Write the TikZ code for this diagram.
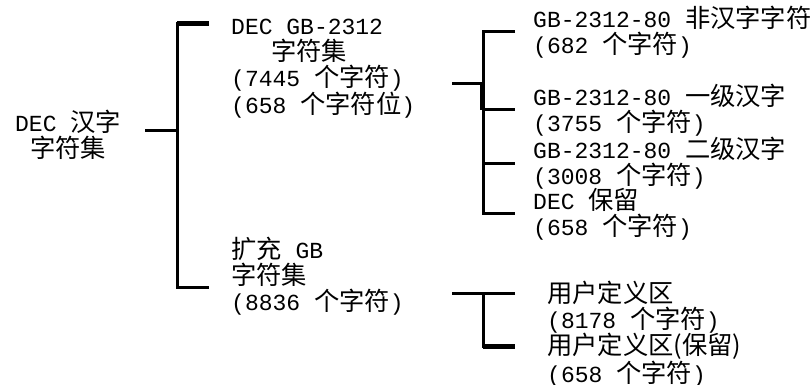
\documentclass[tikz,border=0pt]{standalone}
\usepackage{fontspec}
\setmainfont{Liberation Mono}
\newfontfamily\cjk{Noto Sans CJK SC}[Scale=1.1]
\newcommand{\zh}[1]{{\cjk #1}}

\begin{document}
\begin{tikzpicture}[x = 1pt, y = -1pt,
                      bar/.style = {line width = 3pt, line join = miter},
                      thickbar/.style = {line width = 5pt},
                      txt/.style = {anchor = west, inner sep = 0pt, align = left,
                                    font = \fontsize{23}{26}\selectfont}]
    \useasboundingbox (0, 0) rectangle (811, 385);

    \node [txt, align = center] (root) at (15, 135) {DEC \zh{汉字}\\\zh{字符集}};
    \node [txt] (gbset) at (231, 69) {DEC GB-2312\\\hspace*{40pt}\zh{字符集}\\(7445 \zh{个字符})\\(658 \zh{个字符位})};
    \node [txt] (extset) at (231, 276) {\zh{扩充} GB\\\zh{字符集}\\(8836 \zh{个字符})};
    \node [txt] (nonhan) at (533, 32) {GB-2312-80 \zh{非汉字字符}\\(682 \zh{个字符})};
    \node [txt] (lvlone) at (533, 110) {GB-2312-80 \zh{一级汉字}\\(3755 \zh{个字符})};
    \node [txt] (lvltwo) at (533, 163) {GB-2312-80 \zh{二级汉字}\\(3008 \zh{个字符})};
    \node [txt] (decres) at (533, 214) {DEC \zh{保留}\\(658 \zh{个字符})};
    \node [txt] (userdef) at (547, 307) {\zh{用户定义区}\\(8178 \zh{个字符})};
    \node [txt] (userres) at (547, 360) {\zh{用户定义区(保留)}\\(658 \zh{个字符})};

    \coordinate (rootstub) at (145, 131);
    \coordinate (rootjoin) at (177, 131);
    \coordinate (gbend) at (209, 24);
    \coordinate (extend) at (209, 287);
    \coordinate (gbstub) at (452, 84);
    \coordinate (gbjoin) at (483, 84);
    \coordinate (gbmid) at (483, 110);
    \coordinate (nonhanend) at (515, 32);
    \coordinate (lvloneend) at (515, 110);
    \coordinate (lvltwoend) at (515, 163);
    \coordinate (decresend) at (515, 213);
    \coordinate (extstub) at (452, 293);
    \coordinate (extjoin) at (483, 293);
    \coordinate (userdefend) at (515, 293);
    \coordinate (userresend) at (515, 346);

    \draw [bar] (rootstub) -- (rootjoin);
    \draw [bar] (gbend) -- (gbend -| rootjoin) -- (extend -| rootjoin) -- (extend);
    \draw [thickbar] (gbend -| rootjoin) -- (gbend);

    \draw [bar] (gbstub) -- (gbjoin);
    \draw [bar] (nonhanend) -- (nonhanend -| gbjoin) -- (decresend -| gbjoin) -- (decresend);
    \draw [bar] (gbmid) -- (lvloneend);
    \draw [bar] (lvltwoend -| gbjoin) -- (lvltwoend);
    \draw [thickbar] ([xshift = -1pt]gbjoin) -- ([xshift = -1pt]gbmid);

    \draw [bar] (extstub) -- (extjoin);
    \draw [bar] (userdefend) -- (extjoin) -- (userresend -| extjoin) -- (userresend);
    \draw [thickbar] (userresend -| extjoin) -- (userresend);
\end{tikzpicture}
\end{document}
